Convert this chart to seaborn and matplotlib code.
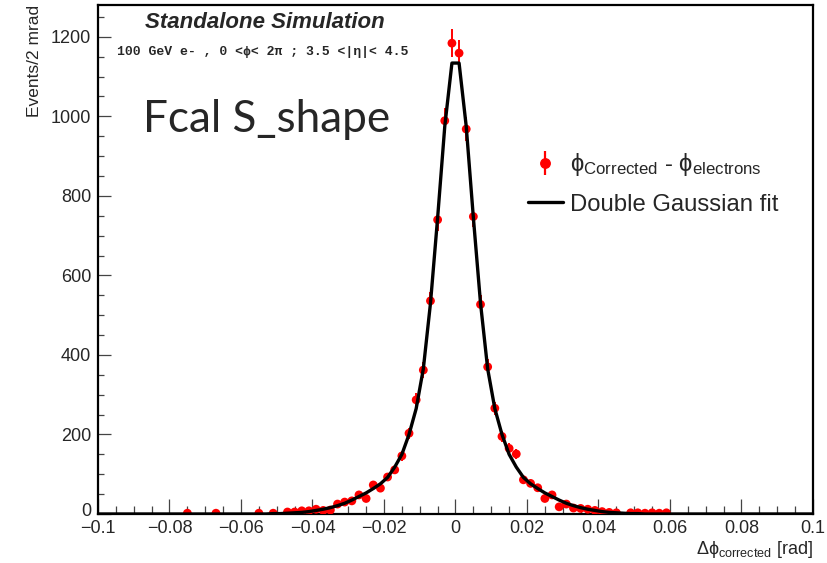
import numpy as np
import pandas as pd
import matplotlib
matplotlib.use("Agg")
import matplotlib.pyplot as plt
import matplotlib.transforms as mtransforms
from matplotlib.ticker import MultipleLocator, FixedLocator
from matplotlib.lines import Line2D
from matplotlib.legend_handler import HandlerTuple
import seaborn as sns

# Histogram: bin centres in mrad (2 mrad bins) and events per bin
bin_centres_mrad = [-75, -67, -55, -51, -47, -45, -43, -41, -39, -37, -35, -33,
                    -31, -29, -27, -25, -23, -21, -19, -17, -15, -13, -11, -9,
                    -7, -5, -3, -1, 1, 3, 5, 7, 9, 11, 13, 15, 17, 19, 21, 23,
                    25, 27, 29, 31, 33, 35, 37, 39, 41, 43, 45, 49, 51, 53, 55,
                    57, 59]
counts = [2, 2, 2, 2, 5, 5, 8, 8, 12, 9, 10, 25,
          30, 33, 48, 39, 73, 65, 93, 111, 146, 203, 287, 362,
          536, 740, 989, 1184, 1159, 968, 748, 527, 370, 266, 195, 165, 151, 86, 77, 66,
          39, 48, 18, 25, 15, 14, 12, 9, 6, 4, 3, 3, 3, 2, 3,
          2, 3]

# Double Gaussian fit evaluated at the bin centres
fit_x_mrad = [-100] + list(range(-53, 54, 2)) + [100]
fit_values = [0,
              0, 1, 1, 2, 3, 4, 6, 9, 12, 16, 21, 27, 35, 44, 53, 64, 76, 92,
              118, 150, 200, 265, 365, 530, 745, 975, 1134,
              1134, 975, 745, 530, 365, 265, 200, 150, 118, 92, 76, 64, 53, 44,
              35, 27, 21, 16, 12, 9, 6, 4, 3, 2, 1, 1, 0,
              0]

x_ticks = [-0.1, -0.08, -0.06, -0.04, -0.02, 0.0, 0.02, 0.04, 0.06, 0.08, 0.1]
x_tick_labels = ["\u22120.1", "\u22120.08", "\u22120.06", "\u22120.04", "\u22120.02",
                 "0", "0.02", "0.04", "0.06", "0.08", "0.1"]
y_ticks = [0, 200, 400, 600, 800, 1000, 1200]

sns.set_theme(style="ticks")
plt.rcParams["font.family"] = ["Liberation Sans", "DejaVu Sans"]
plt.rcParams["mathtext.fontset"] = "custom"
plt.rcParams["mathtext.rm"] = "Liberation Sans"
plt.rcParams["mathtext.it"] = "Liberation Sans:italic"
plt.rcParams["mathtext.bf"] = "Liberation Sans:bold"

points = pd.DataFrame({"dphi": np.array(bin_centres_mrad) / 1000.0,
                       "events": counts})
fit = pd.DataFrame({"dphi": np.array(fit_x_mrad) / 1000.0, "events": fit_values})

fig = plt.figure(figsize=(8.28, 5.63), dpi=100)
W, H = 828, 563
ax = fig.add_axes([98 / W, 1 - 514 / H, (813 - 98) / W, (514 - 5) / H])

# Poisson error bars
ax.errorbar(points["dphi"], points["events"], yerr=np.sqrt(points["events"]),
            fmt="none", ecolor="red", elinewidth=1.4, capsize=0, zorder=2)
sns.scatterplot(data=points, x="dphi", y="events", color="red", s=40,
                edgecolor="none", linewidth=0, ax=ax, zorder=3, legend=False)
sns.lineplot(data=fit, x="dphi", y="events", color="black", linewidth=2.4,
             ax=ax, zorder=4, legend=False)

ax.set_xlim(-0.1, 0.1)
ax.set_ylim(0, 1280)
ax.xaxis.set_major_locator(FixedLocator(x_ticks))
ax.set_xticklabels(x_tick_labels)
ax.xaxis.set_minor_locator(MultipleLocator(0.005))
ax.yaxis.set_major_locator(FixedLocator(y_ticks))
ax.set_yticklabels([str(v) for v in y_ticks])
ax.yaxis.set_minor_locator(MultipleLocator(50))

ax.tick_params(axis="both", which="both", direction="in", color="#444444",
               width=0.9, top=False, right=False, labelsize=13)
ax.tick_params(axis="x", which="major", length=11, pad=4.5)
ax.tick_params(axis="x", which="minor", length=6)
ax.tick_params(axis="y", which="major", length=9, pad=5)
ax.tick_params(axis="y", which="minor", length=4.5)
for side in ax.spines.values():
    side.set_linewidth(1.6)
    side.set_color("black")

ax.set_xlabel("$\\mathrm{\u0394\u03d5}_{\\mathrm{corrected}}$ [rad]", fontsize=13,
              loc="right", labelpad=1)
ax.set_ylabel("Events/2 mrad", fontsize=12.5, loc="top", labelpad=6)

# lift the "0" on the y axis a little so it clears the first x label
zero_label = ax.yaxis.get_majorticklabels()[0]
zero_label.set_transform(zero_label.get_transform()
                         + mtransforms.ScaledTranslation(0, 3 / 72, fig.dpi_scale_trans))

fig.text(145 / W, 1 - 22 / H, "Standalone Simulation", fontsize=16,
         fontweight="bold", fontstyle="italic", va="center", ha="left")
fig.text(117 / W, 1 - 52 / H,
         "100 GeV e- , 0 <\u03d5< 2\u03c0 ; 3.5 <|\u03b7|< 4.5",
         family=["Liberation Mono", "DejaVu Sans Mono"], fontsize=9.45,
         fontweight="bold", va="center", ha="left")
fig.text(143 / W, 1 - 120 / H, "Fcal S_shape", family=["Lato", "DejaVu Sans"],
         fontsize=31.8, va="center", ha="left")

pt_handle = (Line2D([], [], color="red", marker="|", markersize=17,
                    markeredgewidth=1.6, linestyle="none"),
             Line2D([], [], color="red", marker="o", markersize=6.8,
                    linestyle="none"))
fit_handle = Line2D([], [], color="black", linewidth=2.4)
leg = ax.legend([pt_handle, fit_handle],
                ["$\\mathrm{\u03d5}_{\\mathrm{Corrected}}$ - $\\mathrm{\u03d5}_{\\mathrm{electrons}}$",
                 "Double Gaussian fit"],
                handler_map={tuple: HandlerTuple(ndivide=1)},
                loc="upper left", bbox_to_anchor=((528 - 98) / (813 - 98), (514 - 151) / (514 - 5)),
                frameon=False, fontsize=17.2, handlelength=1.45, handletextpad=0.3,
                borderpad=0, borderaxespad=0, labelspacing=0.65)

fig.savefig("out.png", dpi=100)
